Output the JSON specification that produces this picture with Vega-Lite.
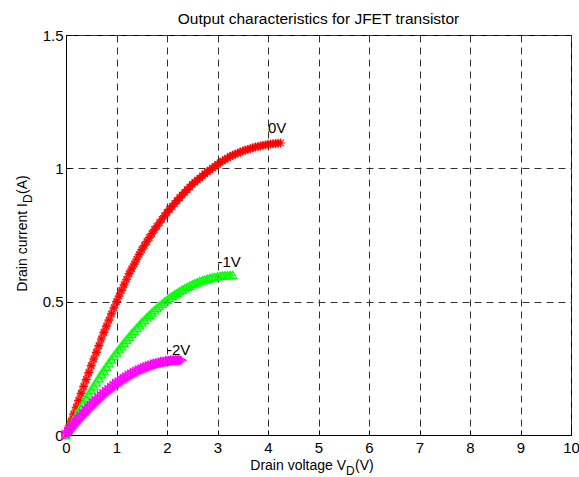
{
"$schema":"https://vega.github.io/schema/vega-lite/v6.json",
"width":505,"height":400,
"autosize":{"type":"none"},
"padding":{"left":66,"top":35,"right":8,"bottom":42},
"background":"white",
"title":{"text":"Output characteristics for JFET transistor","fontSize":15.5,"font":"Liberation Sans","fontWeight":"normal","color":"black","anchor":"middle","offset":1,"frame":"group"},
"config":{"font":"Liberation Sans","view":{"stroke":"black","strokeWidth":1},
"axis":{"gridColor":"#333","gridDash":[7,5],"gridOpacity":1,"gridWidth":1,"domainColor":"black","tickColor":"black","tickSize":-5,"labelColor":"black","labelFontSize":15,"labelFont":"Liberation Sans","title":null,"labelOverlap":false}},
"datasets":{
"red":[{"x":0,"y":0},{"x":0.05,"y":0.026},{"x":0.1,"y":0.052},{"x":0.15,"y":0.078},{"x":0.2,"y":0.104},{"x":0.25,"y":0.13},{"x":0.3,"y":0.156},{"x":0.35,"y":0.182},{"x":0.4,"y":0.208},{"x":0.45,"y":0.234},{"x":0.5,"y":0.26},{"x":0.55,"y":0.285},{"x":0.6,"y":0.31},{"x":0.65,"y":0.335},{"x":0.7,"y":0.36},{"x":0.75,"y":0.385},{"x":0.8,"y":0.408},{"x":0.85,"y":0.431},{"x":0.9,"y":0.454},{"x":0.95,"y":0.477},{"x":1,"y":0.5},{"x":1.05,"y":0.521},{"x":1.1,"y":0.542},{"x":1.15,"y":0.563},{"x":1.2,"y":0.584},{"x":1.25,"y":0.605},{"x":1.3,"y":0.623},{"x":1.35,"y":0.641},{"x":1.4,"y":0.659},{"x":1.45,"y":0.677},{"x":1.5,"y":0.695},{"x":1.55,"y":0.71},{"x":1.6,"y":0.725},{"x":1.65,"y":0.74},{"x":1.7,"y":0.755},{"x":1.75,"y":0.77},{"x":1.8,"y":0.783},{"x":1.85,"y":0.796},{"x":1.9,"y":0.809},{"x":1.95,"y":0.822},{"x":2,"y":0.835},{"x":2.05,"y":0.846},{"x":2.1,"y":0.857},{"x":2.15,"y":0.868},{"x":2.2,"y":0.879},{"x":2.25,"y":0.89},{"x":2.3,"y":0.9},{"x":2.35,"y":0.91},{"x":2.4,"y":0.92},{"x":2.45,"y":0.93},{"x":2.5,"y":0.94},{"x":2.55,"y":0.948},{"x":2.6,"y":0.956},{"x":2.65,"y":0.964},{"x":2.7,"y":0.972},{"x":2.75,"y":0.98},{"x":2.8,"y":0.987},{"x":2.85,"y":0.994},{"x":2.9,"y":1.001},{"x":2.95,"y":1.008},{"x":3,"y":1.015},{"x":3.05,"y":1.021},{"x":3.1,"y":1.027},{"x":3.15,"y":1.033},{"x":3.2,"y":1.039},{"x":3.25,"y":1.045},{"x":3.3,"y":1.049},{"x":3.35,"y":1.053},{"x":3.4,"y":1.057},{"x":3.45,"y":1.061},{"x":3.5,"y":1.065},{"x":3.55,"y":1.068},{"x":3.6,"y":1.071},{"x":3.65,"y":1.074},{"x":3.7,"y":1.077},{"x":3.75,"y":1.08},{"x":3.8,"y":1.082},{"x":3.85,"y":1.084},{"x":3.9,"y":1.086},{"x":3.95,"y":1.088},{"x":4,"y":1.09},{"x":4.05,"y":1.091},{"x":4.1,"y":1.092},{"x":4.15,"y":1.093},{"x":4.2,"y":1.094},{"x":4.25,"y":1.095}],
"green":[{"x":0,"y":0},{"x":0.05,"y":0.018},{"x":0.1,"y":0.036},{"x":0.15,"y":0.053},{"x":0.2,"y":0.071},{"x":0.25,"y":0.088},{"x":0.3,"y":0.104},{"x":0.35,"y":0.121},{"x":0.4,"y":0.137},{"x":0.45,"y":0.153},{"x":0.5,"y":0.168},{"x":0.55,"y":0.183},{"x":0.6,"y":0.198},{"x":0.65,"y":0.213},{"x":0.7,"y":0.228},{"x":0.75,"y":0.242},{"x":0.8,"y":0.256},{"x":0.85,"y":0.269},{"x":0.9,"y":0.283},{"x":0.95,"y":0.296},{"x":1,"y":0.309},{"x":1.05,"y":0.321},{"x":1.1,"y":0.333},{"x":1.15,"y":0.345},{"x":1.2,"y":0.357},{"x":1.25,"y":0.368},{"x":1.3,"y":0.38},{"x":1.35,"y":0.39},{"x":1.4,"y":0.401},{"x":1.45,"y":0.411},{"x":1.5,"y":0.422},{"x":1.55,"y":0.431},{"x":1.6,"y":0.441},{"x":1.65,"y":0.45},{"x":1.7,"y":0.459},{"x":1.75,"y":0.468},{"x":1.8,"y":0.476},{"x":1.85,"y":0.484},{"x":1.9,"y":0.492},{"x":1.95,"y":0.5},{"x":2,"y":0.507},{"x":2.05,"y":0.514},{"x":2.1,"y":0.521},{"x":2.15,"y":0.527},{"x":2.2,"y":0.533},{"x":2.25,"y":0.539},{"x":2.3,"y":0.545},{"x":2.35,"y":0.55},{"x":2.4,"y":0.555},{"x":2.45,"y":0.56},{"x":2.5,"y":0.565},{"x":2.55,"y":0.569},{"x":2.6,"y":0.573},{"x":2.65,"y":0.577},{"x":2.7,"y":0.58},{"x":2.75,"y":0.583},{"x":2.8,"y":0.586},{"x":2.85,"y":0.589},{"x":2.9,"y":0.591},{"x":2.95,"y":0.593},{"x":3,"y":0.595},{"x":3.05,"y":0.597},{"x":3.1,"y":0.598},{"x":3.15,"y":0.599},{"x":3.2,"y":0.599},{"x":3.25,"y":0.6},{"x":3.3,"y":0.6}],
"magenta":[{"x":0,"y":0},{"x":0.05,"y":0.012},{"x":0.1,"y":0.024},{"x":0.15,"y":0.035},{"x":0.2,"y":0.047},{"x":0.25,"y":0.058},{"x":0.3,"y":0.068},{"x":0.35,"y":0.079},{"x":0.4,"y":0.089},{"x":0.45,"y":0.099},{"x":0.5,"y":0.109},{"x":0.55,"y":0.118},{"x":0.6,"y":0.127},{"x":0.65,"y":0.136},{"x":0.7,"y":0.145},{"x":0.75,"y":0.153},{"x":0.8,"y":0.161},{"x":0.85,"y":0.169},{"x":0.9,"y":0.176},{"x":0.95,"y":0.184},{"x":1,"y":0.191},{"x":1.05,"y":0.197},{"x":1.1,"y":0.204},{"x":1.15,"y":0.21},{"x":1.2,"y":0.216},{"x":1.25,"y":0.222},{"x":1.3,"y":0.227},{"x":1.35,"y":0.232},{"x":1.4,"y":0.237},{"x":1.45,"y":0.242},{"x":1.5,"y":0.246},{"x":1.55,"y":0.25},{"x":1.6,"y":0.254},{"x":1.65,"y":0.258},{"x":1.7,"y":0.261},{"x":1.75,"y":0.264},{"x":1.8,"y":0.267},{"x":1.85,"y":0.269},{"x":1.9,"y":0.272},{"x":1.95,"y":0.274},{"x":2,"y":0.275},{"x":2.05,"y":0.277},{"x":2.1,"y":0.278},{"x":2.15,"y":0.279},{"x":2.2,"y":0.28},{"x":2.25,"y":0.28},{"x":2.3,"y":0.28}],
"labels":[{"x":4.0,"y":1.15,"text":"0V"},{"x":3.0,"y":0.65,"text":"-1V"},{"x":2.0,"y":0.32,"text":"-2V"}],
"one":[{}]
},
"layer":[
{"data":{"name":"red"},"mark":{"type":"line","color":"#ff0000","strokeWidth":7,"opacity":0.6},
"encoding":{"x":{"field":"x","type":"quantitative","scale":{"domain":[0,10],"nice":false,"zero":false},"axis":{"values":[0,1,2,3,4,5,6,7,8,9,10],"grid":true,"labelFlush":false,"labelPadding":10}},
"y":{"field":"y","type":"quantitative","scale":{"domain":[0,1.5],"nice":false,"zero":false},"axis":{"values":[0,0.5,1,1.5],"format":"~g","grid":true,"labelPadding":8}}}},
{"data":{"name":"red"},"mark":{"type":"point","shape":"M-1,0L1,0M0,-1L0,1M-0.7,-0.7L0.7,0.7M-0.7,0.7L0.7,-0.7","filled":false,"color":"#ff0000","strokeWidth":1.2,"size":80,"opacity":1},
"encoding":{"x":{"field":"x","type":"quantitative"},"y":{"field":"y","type":"quantitative"}}},
{"data":{"name":"green"},"mark":{"type":"line","color":"#00ff00","strokeWidth":7,"opacity":0.45},
"encoding":{"x":{"field":"x","type":"quantitative"},"y":{"field":"y","type":"quantitative"}}},
{"data":{"name":"green"},"mark":{"type":"point","shape":"triangle-up","filled":false,"color":"#00ff00","strokeWidth":1.2,"size":70,"opacity":1},
"encoding":{"x":{"field":"x","type":"quantitative"},"y":{"field":"y","type":"quantitative"}}},
{"data":{"name":"magenta"},"mark":{"type":"line","color":"#ff00ff","strokeWidth":9,"opacity":0.8},
"encoding":{"x":{"field":"x","type":"quantitative"},"y":{"field":"y","type":"quantitative"}}},
{"data":{"name":"magenta"},"mark":{"type":"point","shape":"triangle-right","filled":false,"color":"#ff00ff","strokeWidth":1.2,"size":80,"opacity":1},
"encoding":{"x":{"field":"x","type":"quantitative"},"y":{"field":"y","type":"quantitative"}}},
{"data":{"name":"labels"},"mark":{"type":"text","align":"left","baseline":"middle","fontSize":15,"color":"black"},
"encoding":{"x":{"field":"x","type":"quantitative"},"y":{"field":"y","type":"quantitative"},"text":{"field":"text"}}},
{"data":{"name":"one"},"mark":{"type":"text","text":"Drain voltage V","align":"right","baseline":"alphabetic","fontSize":14,"color":"black","dx":27.5,"dy":35},
"encoding":{"x":{"datum":5,"type":"quantitative"},"y":{"datum":0,"type":"quantitative"}}},
{"data":{"name":"one"},"mark":{"type":"text","text":"D","align":"left","baseline":"alphabetic","fontSize":12,"color":"black","dx":27.5,"dy":40},
"encoding":{"x":{"datum":5,"type":"quantitative"},"y":{"datum":0,"type":"quantitative"}}},
{"data":{"name":"one"},"mark":{"type":"text","text":"(V)","align":"left","baseline":"alphabetic","fontSize":14,"color":"black","dx":36.5,"dy":35},
"encoding":{"x":{"datum":5,"type":"quantitative"},"y":{"datum":0,"type":"quantitative"}}},
{"data":{"name":"one"},"mark":{"type":"text","text":"Drain current I","align":"right","baseline":"alphabetic","angle":270,"fontSize":14,"color":"black","dx":32,"dy":-39},
"encoding":{"x":{"datum":0,"type":"quantitative"},"y":{"datum":0.75,"type":"quantitative"}}},
{"data":{"name":"one"},"mark":{"type":"text","text":"D","align":"left","baseline":"alphabetic","angle":270,"fontSize":12,"color":"black","dx":32,"dy":-34},
"encoding":{"x":{"datum":0,"type":"quantitative"},"y":{"datum":0.75,"type":"quantitative"}}},
{"data":{"name":"one"},"mark":{"type":"text","text":"(A)","align":"left","baseline":"alphabetic","angle":270,"fontSize":14,"color":"black","dx":41,"dy":-39},
"encoding":{"x":{"datum":0,"type":"quantitative"},"y":{"datum":0.75,"type":"quantitative"}}}
]
}
